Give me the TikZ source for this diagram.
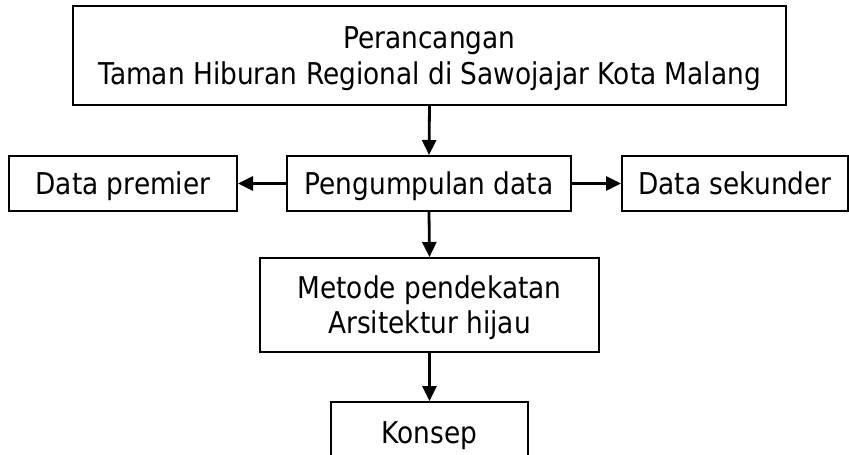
\documentclass[tikz,border=0pt]{standalone}
\usepackage{fontspec}
\setmainfont[FakeStretch=0.88]{DejaVu Sans}
\usetikzlibrary{arrows.meta}
\begin{document}
\begin{tikzpicture}[x=1pt,y=-1pt,
  box/.style={draw=black,line width=2pt,inner sep=0pt,align=center,
    text height=21.5pt,text depth=0pt,
    font=\fontsize{30}{35.5}\selectfont},
  twoline/.style={text height=57pt,text depth=0pt},
  arr/.style={draw=black,line width=2.8pt,-{Triangle[length=15pt,width=14pt]}}]
\useasboundingbox (0,0) rectangle (849,455);
\node[box,twoline,minimum width=713pt,minimum height=99pt] (top) at (429.5,55.5)
  {Perancangan\\Taman Hiburan Regional di Sawojajar Kota Malang};
\node[box,minimum width=228pt,minimum height=55pt] (prem) at (123,183.5) {Data premier};
\node[box,minimum width=284pt,minimum height=55pt] (peng) at (429,183.5) {Pengumpulan data};
\node[box,minimum width=226pt,minimum height=55pt] (sek) at (735,183.5) {Data sekunder};
\node[box,twoline,minimum width=339pt,minimum height=94pt] (met) at (429.5,305) {Metode pendekatan\\Arsitektur hijau};
\node[box,minimum width=197pt,minimum height=62pt] (kon) at (429.5,433) {Konsep};
\draw[arr] (top.south) -- (peng.north);
\draw[arr] (peng.west) -- (prem.east);
\draw[arr] (peng.east) -- (sek.west);
\draw[arr] (peng.south) -- (met.north);
\draw[arr] (met.south) -- (kon.north);
\end{tikzpicture}
\end{document}
